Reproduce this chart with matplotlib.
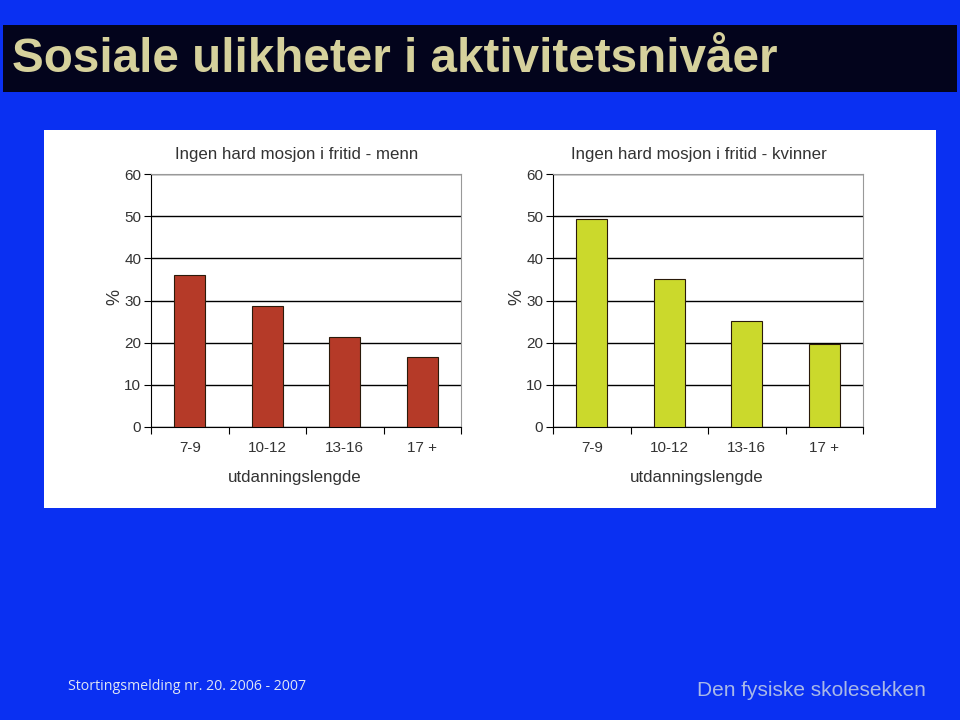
import matplotlib
matplotlib.use('Agg')
import matplotlib.pyplot as plt
from matplotlib.patches import Rectangle

plt.rcParams['font.family'] = ['Liberation Sans', 'DejaVu Sans']

# data
categories = ['7-9', '10-12', '13-16', '17 +']
menn = [36, 28.8, 21.4, 16.7]
kvinner = [49.3, 35, 25.2, 19.8]
yticks = [0, 10, 20, 30, 40, 50, 60]

W, H = 960, 720
BG = '#0a30f2'

fig = plt.figure(figsize=(9.6, 7.2), dpi=100, facecolor=BG)

def fx(x):
    return x / W

def fy(y):
    return 1 - y / H

# tittelfelt
fig.patches.append(Rectangle((fx(3), fy(92)), fx(954), (92 - 25) / H,
                             transform=fig.transFigure, facecolor='#03041c', edgecolor='none', zorder=-2))
fig.text(fx(12), fy(60), 'Sosiale ulikheter i aktivitetsnivåer', color='#d6d19c',
         fontsize=34.3, fontweight='bold', va='center', ha='left')

# hvitt panel
fig.patches.append(Rectangle((fx(44), fy(508)), fx(892), (508 - 130) / H,
                             transform=fig.transFigure, facecolor='white', edgecolor='none', zorder=-2))

def bar_chart(left, values, color, title):
    ax = fig.add_axes([fx(left), fy(427), fx(310), (427 - 174) / H])
    ax.set_facecolor('white')
    x = range(len(categories))
    ax.bar(x, values, width=0.4, color=color, edgecolor='#2a1a0a', linewidth=0.8, zorder=3)
    ax.set_xlim(-0.5, len(categories) - 0.5)
    ax.set_ylim(0, 60)
    ax.set_yticks(yticks)
    ax.set_yticklabels([str(t) for t in yticks], fontsize=11, color='#333333')
    ax.yaxis.grid(True, color='black', linewidth=1)
    ax.set_axisbelow(True)
    ax.set_xticks([i - 0.5 for i in range(len(categories) + 1)])
    ax.set_xticklabels([])
    ax.set_xticks(list(x), minor=True)
    ax.set_xticklabels(categories, minor=True, fontsize=11, color='#333333')
    ax.tick_params(axis='x', which='major', direction='out', length=5, color='black')
    ax.tick_params(axis='x', which='minor', length=0, pad=10)
    ax.tick_params(axis='y', direction='out', length=5, pad=2)
    for s in ['top', 'right']:
        ax.spines[s].set_color('#999999')
    ax.spines['left'].set_color('black')
    ax.spines['bottom'].set_color('black')
    t = ax.set_title(title, fontsize=12.2, color='#333333', pad=11)
    t.set_x(0.47)
    ax.set_xlabel('utdanningslengde', fontsize=12.2, color='#333333', labelpad=11)
    ax.xaxis.label.set_x(0.465)
    ax.set_ylabel('%', fontsize=13, color='#333333')
    ax.yaxis.set_label_coords(-0.09, 0.515)
    return ax

bar_chart(151, menn, '#b53a28', 'Ingen hard mosjon i fritid - menn')
bar_chart(553, kvinner, '#cbd92c', 'Ingen hard mosjon i fritid - kvinner')

# bunntekst
fig.text(fx(68), fy(686), 'Stortingsmelding nr. 20. 2006 - 2007', color='#e0e6f4',
         fontsize=10.2, va='center', ha='left', family=['Open Sans', 'DejaVu Sans'])
fig.text(fx(926), fy(690), 'Den fysiske skolesekken', color='#a8b8e8',
         fontsize=15, va='center', ha='right')

fig.savefig('out.png', dpi=100, facecolor=BG)
